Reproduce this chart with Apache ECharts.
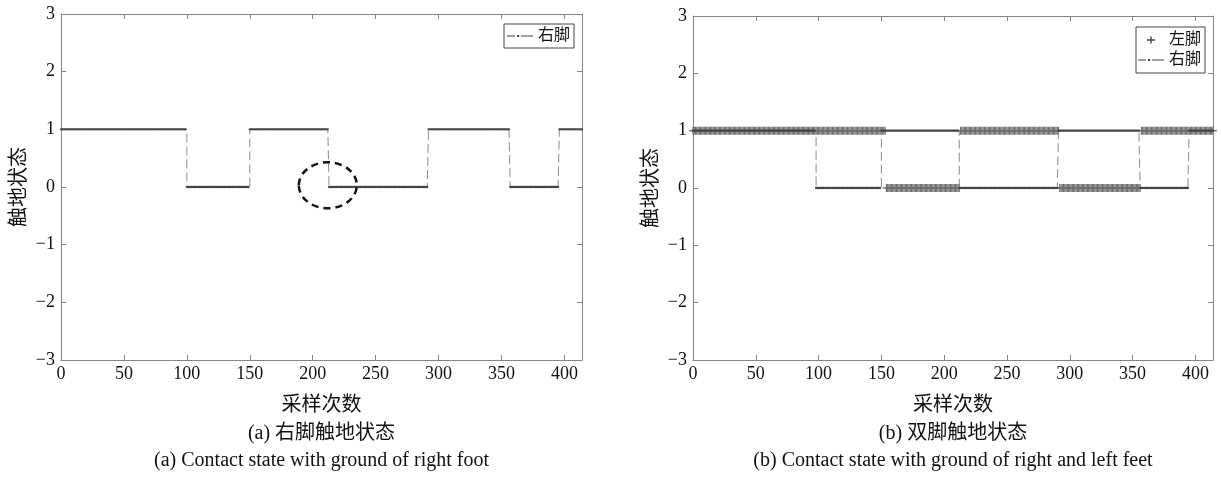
<!DOCTYPE html>
<html><head><meta charset="utf-8">
<script src="https://cdn.jsdelivr.net/npm/echarts@6/dist/echarts.min.js"></script>
<style>html,body{margin:0;padding:0;background:#fff}#c{width:1221px;height:477px}</style>
</head><body><div id="c"></div>
<script>
// ---------- data ----------
const sampleCount = 415;            // samples 0..414
const xAxisMax = 414;
const xTickInterval = 50;
const yMin = -3, yMax = 3, yInterval = 1;

// Panel (a): right foot contact state (segment start sample, level)
const rightFootA_starts = [0, 100, 150, 213, 292, 357, 396];
const rightFootA_levels = [1, 0, 1, 0, 1, 0, 1];

// Panel (b): right foot & left foot contact state
const rightFootB_starts = [0, 98, 150, 212, 291, 356, 395];
const rightFootB_levels = [1, 0, 1, 0, 1, 0, 1];
const leftFootB_starts  = [0, 154, 213, 292, 357];
const leftFootB_levels  = [1, 0, 1, 0, 1];

// Annotation (dashed ellipse) centre in panel (a), data coords
const annotCenterA = [212, 0.03];

const xAxisName = '采样次数';
const yAxisName = '触地状态';
const captionsA = ['(a) 右脚触地状态', '(a) Contact state with ground of right foot'];
const captionsB = ['(b) 双脚触地状态', '(b) Contact state with ground of right and left feet'];

// ---------- helpers ----------
function expand(starts, levels, n) {
  const out = [];
  let seg = 0;
  for (let i = 0; i < n; i++) {
    while (seg + 1 < starts.length && i >= starts[seg + 1]) seg++;
    out.push([i, levels[seg]]);
  }
  return out;
}
const FONT = "'Liberation Serif', 'Noto Sans CJK SC', serif";
const AXIS_COLOR = '#858585';
const fmtY = v => (v < 0 ? '\u2212' + Math.abs(v) : String(v));

function xAxis(grid, pos, main) {
  return {
    type: 'value', gridIndex: grid, position: pos, min: 0, max: xAxisMax, interval: xTickInterval,
    axisLine: { show: true, onZero: false, lineStyle: { color: AXIS_COLOR, width: 1 } },
    axisTick: { show: true, inside: true, length: 5, lineStyle: { color: AXIS_COLOR } },
    axisLabel: { show: main, margin: 5, fontSize: 18, color: '#111', fontFamily: FONT },
    splitLine: { show: false },
    name: main ? xAxisName : '', nameLocation: 'middle', nameGap: 36,
    nameTextStyle: { fontSize: 20, color: '#111', fontFamily: FONT }
  };
}
function yAxis(grid, pos, main) {
  return {
    type: 'value', gridIndex: grid, position: pos, min: yMin, max: yMax, interval: yInterval,
    axisLine: { show: true, onZero: false, lineStyle: { color: AXIS_COLOR, width: 1 } },
    axisTick: { show: true, inside: true, length: 5, lineStyle: { color: AXIS_COLOR } },
    axisLabel: { show: main, margin: 6, fontSize: 18, color: '#111', fontFamily: FONT, formatter: fmtY },
    splitLine: { show: false },
    name: main ? yAxisName : '', nameLocation: 'middle', nameGap: 31, nameRotate: 90,
    nameTextStyle: { fontSize: 20, color: '#111', fontFamily: FONT }
  };
}
const plusSymbol = 'path://M3,0h1v3h3v1h-3v3h-1v-3h-3v-1h3z';
const dashDotIcon = 'path://M0,0h0.01v0.01h-0.01z M25.99,9.99h0.01v0.01h-0.01z M0,4.5h8v1h-8z M10,4h2.2v2h-2.2z M14,4.5h12v1h-12z';
const plusIcon = 'path://M0,0h0.01v0.01h-0.01z M25.99,9.99h0.01v0.01h-0.01z M12.3,1.5h1.4v2.8h3.3v1.4h-3.3v2.8h-1.4v-2.8h-3.3v-1.4h3.3z';

function rightFootSeries(data, xi, yi) {
  return {
    type: 'line', name: '右脚', data: data, xAxisIndex: xi, yAxisIndex: yi, step: 'end',
    showAllSymbol: true, symbol: 'circle', symbolSize: 2.3, silent: true, z: 3,
    itemStyle: { color: '#454545' },
    lineStyle: { color: '#8c8c8c', width: 1, type: [9, 4] },
    emphasis: { disabled: true }
  };
}
const legendBase = {
  orient: 'vertical', itemWidth: 26, itemHeight: 10, itemGap: 4, selectedMode: false,
  borderColor: '#444', borderWidth: 1, backgroundColor: '#fff',
  textStyle: { fontSize: 16, color: '#111', fontFamily: FONT }
};

const chart = echarts.init(document.getElementById('c'), null, { renderer: 'canvas' });
chart.setOption({
  animation: false,
  backgroundColor: '#fff',
  grid: [
    { left: 61, top: 14, width: 521, height: 346 },
    { left: 693, top: 16, width: 520, height: 344 }
  ],
  xAxis: [xAxis(0, 'bottom', true), xAxis(0, 'top', false), xAxis(1, 'bottom', true), xAxis(1, 'top', false)],
  yAxis: [yAxis(0, 'left', true), yAxis(0, 'right', false), yAxis(1, 'left', true), yAxis(1, 'right', false)],
  legend: [
    Object.assign({}, legendBase, { left: 504, top: 24, padding: [4, 4, 4, 3],
      data: [{ name: '右脚', icon: dashDotIcon }] }),
    Object.assign({}, legendBase, { left: 1136, top: 27, padding: [5, 4, 5, 2],
      data: [{ name: '左脚', icon: plusIcon, itemStyle: { color: '#444' } }, { name: '右脚', icon: dashDotIcon }] })
  ],
  series: [
    rightFootSeries(expand(rightFootA_starts, rightFootA_levels, sampleCount), 0, 0),
    {
      type: 'scatter', name: '左脚', data: expand(leftFootB_starts, leftFootB_levels, sampleCount),
      xAxisIndex: 2, yAxisIndex: 2, symbol: plusSymbol, symbolSize: 8, silent: true, z: 2,
      itemStyle: { color: '#6e6e6e', opacity: 1 }, emphasis: { disabled: true }
    },
    rightFootSeries(expand(rightFootB_starts, rightFootB_levels, sampleCount), 2, 2)
  ]
});

const c = chart.convertToPixel({ xAxisIndex: 0, yAxisIndex: 0 }, annotCenterA);
const midA = 61 + 521 / 2, midB = 693 + 520 / 2;
const capStyle = (t, size) => ({ text: t, fontSize: size, fill: '#111', fontFamily: FONT, textAlign: 'center', textVerticalAlign: 'middle' });
chart.setOption({
  graphic: [
    { type: 'ellipse', id: 'annot', shape: { cx: c[0], cy: c[1], rx: 29, ry: 23 }, silent: true, z: 10,
      style: { fill: 'none', stroke: '#111', lineWidth: 2.5, lineDash: [7, 5] } },
    { type: 'text', id: 'capA1', x: midA, y: 434, style: capStyle(captionsA[0], 20) },
    { type: 'text', id: 'capA2', x: midA, y: 461, style: capStyle(captionsA[1], 20) },
    { type: 'text', id: 'capB1', x: midB, y: 434, style: capStyle(captionsB[0], 20) },
    { type: 'text', id: 'capB2', x: midB, y: 461, style: capStyle(captionsB[1], 20) }
  ]
});
</script>
</body></html>
